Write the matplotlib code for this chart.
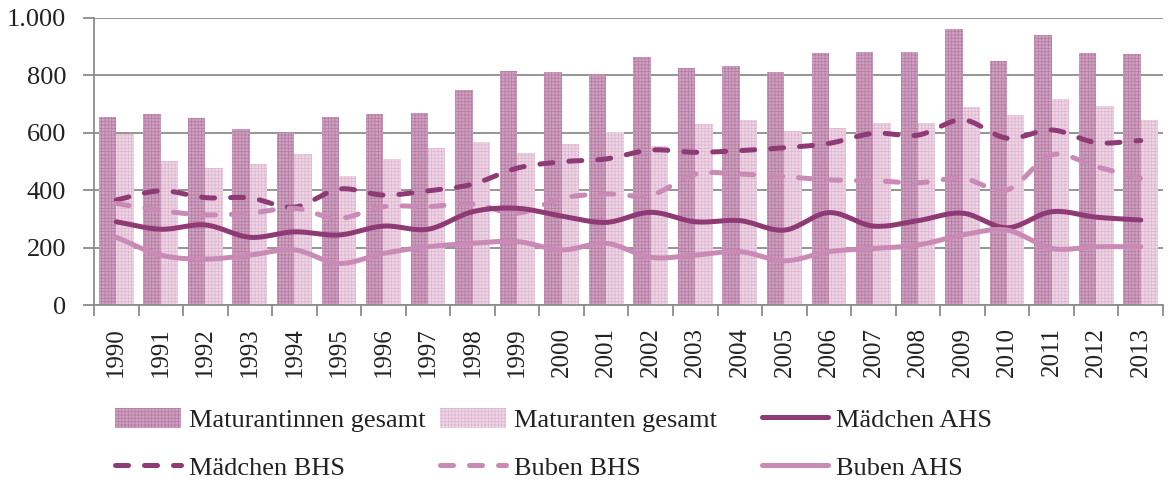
import numpy as np
import matplotlib
matplotlib.use("Agg")
import matplotlib.pyplot as plt
from matplotlib.lines import Line2D
from matplotlib.patches import Patch

plt.rcParams['font.family'] = ['Liberation Serif', 'DejaVu Serif']
plt.rcParams['hatch.linewidth'] = 0.6

# Daten
jahre = [str(j) for j in range(1990, 2014)]
maturantinnen = [656, 665, 653, 613, 598, 654, 664, 670, 750, 814, 812, 805,
                 865, 825, 834, 812, 877, 880, 883, 960, 849, 939, 877, 875]
maturanten = [595, 501, 476, 493, 525, 449, 510, 546, 568, 531, 561, 602,
              554, 630, 643, 606, 617, 635, 635, 689, 662, 718, 692, 646]
maedchen_bhs = [366, 398, 374, 373, 341, 404, 383, 398, 421, 477, 499, 509,
                540, 532, 538, 548, 563, 598, 592, 645, 581, 610, 566, 573]
buben_bhs = [354, 329, 314, 320, 337, 302, 343, 343, 352, 320, 372, 387,
             383, 456, 456, 447, 436, 433, 426, 441, 401, 523, 482, 441]
maedchen_ahs = [290, 264, 279, 236, 255, 244, 275, 264, 325, 337, 310, 288,
                323, 290, 294, 261, 322, 275, 294, 320, 269, 325, 306, 296]
buben_ahs = [236, 174, 160, 174, 192, 145, 180, 203, 215, 221, 192, 215,
             166, 174, 186, 154, 186, 197, 209, 244, 261, 197, 203, 203]
y_ticks = [0, 200, 400, 600, 800, 1000]
y_labels = ['0', '200', '400', '600', '800', '1.000']

# Farben
c_dunkel = '#8e3a74'
c_hell = '#c98ab5'
grau = '#8c8c8c'
strich = (2.6, 3.2)


def glatt(x, y, n=16):
    # Catmull-Rom Kurve durch die Punkte (wie "geglättete Linie" in Excel)
    x = np.asarray(x, float)
    y = np.asarray(y, float)
    px = np.concatenate([[2 * x[0] - x[1]], x, [2 * x[-1] - x[-2]]])
    py = np.concatenate([[2 * y[0] - y[1]], y, [2 * y[-1] - y[-2]]])
    xs, ys = [], []
    t = np.linspace(0, 1, n, endpoint=False)
    for i in range(1, len(px) - 2):
        for p, out in ((px, xs), (py, ys)):
            p0, p1, p2, p3 = p[i - 1], p[i], p[i + 1], p[i + 2]
            out.extend(0.5 * ((2 * p1) + (-p0 + p2) * t
                              + (2 * p0 - 5 * p1 + 4 * p2 - p3) * t ** 2
                              + (-p0 + 3 * p1 - 3 * p2 + p3) * t ** 3))
    xs.append(x[-1])
    ys.append(y[-1])
    return np.array(xs), np.array(ys)


fig = plt.figure(figsize=(11.73, 4.86), dpi=100)
ax = fig.add_axes([0.0801, 0.3724, 0.9114, 0.5906])

x = np.arange(len(jahre))
w = 0.39
ax.bar(x - w / 2, maturantinnen, w, color='#d0a2c2', edgecolor='#b57da3',
       hatch='+++++', linewidth=0, zorder=2)
ax.bar(x + w / 2, maturanten, w, color='#efd7e7', edgecolor='#deb8d1',
       hatch='+++++', linewidth=0, zorder=2)

lw = 3.6
xs, ys = glatt(x, maedchen_bhs)
ax.plot(xs, ys, color=c_dunkel, lw=lw, dashes=strich, dash_capstyle='round', zorder=3)
xs, ys = glatt(x, buben_bhs)
ax.plot(xs, ys, color=c_hell, lw=lw, dashes=strich, dash_capstyle='round', zorder=3)
xs, ys = glatt(x, maedchen_ahs)
ax.plot(xs, ys, color=c_dunkel, lw=lw, solid_capstyle='round', zorder=3)
xs, ys = glatt(x, buben_ahs)
ax.plot(xs, ys, color=c_hell, lw=lw, solid_capstyle='round', zorder=3)

ax.set_xlim(-0.5, len(jahre) - 0.5)
ax.set_ylim(0, 1000)
ax.set_yticks(y_ticks)
ax.set_yticklabels(y_labels, fontsize=19, color='#222222')
ax.yaxis.grid(True, color=grau, lw=1.3, zorder=1)
ax.set_axisbelow(True)

ax.set_xticks(x)
ax.set_xticklabels(jahre, rotation=90, fontsize=18, color='#222222')
ax.tick_params(axis='x', length=0, pad=16)
ax.set_xticks(np.arange(len(jahre) + 1) - 0.5, minor=True)
ax.tick_params(axis='x', which='minor', length=8, width=1.3, color=grau)
ax.tick_params(axis='y', length=8, width=1.3, color=grau, pad=12)

for s in ['top', 'right']:
    ax.spines[s].set_visible(False)
for s in ['left', 'bottom']:
    ax.spines[s].set_color(grau)
    ax.spines[s].set_linewidth(1.3)

# Legende: jeder Eintrag einzeln platziert
eintraege = [
    (Patch(facecolor='#d0a2c2', edgecolor='#b57da3', hatch='+++++', linewidth=0),
     'Maturantinnen gesamt', 115, 420),
    (Patch(facecolor='#efd7e7', edgecolor='#deb8d1', hatch='+++++', linewidth=0),
     'Maturanten gesamt', 440, 420),
    (Line2D([], [], color=c_dunkel, lw=lw, solid_capstyle='round'),
     'Mädchen AHS', 762, 420),
    (Line2D([], [], color=c_dunkel, lw=lw, dashes=strich, dash_capstyle='round'),
     'Mädchen BHS', 115, 468),
    (Line2D([], [], color=c_hell, lw=lw, dashes=strich, dash_capstyle='round'),
     'Buben BHS', 440, 468),
    (Line2D([], [], color=c_hell, lw=lw, solid_capstyle='round'),
     'Buben AHS', 762, 468),
]
for h, lab, px_, py_ in eintraege:
    fig.legend([h], [lab], loc='center left',
               bbox_to_anchor=(px_ / 1173, 1 - py_ / 486),
               frameon=False, fontsize=19, handlelength=2.5, handleheight=0.8,
               handletextpad=0.3, borderpad=0, borderaxespad=0,
               labelcolor='#222222')

fig.savefig('out.png', dpi=100)
